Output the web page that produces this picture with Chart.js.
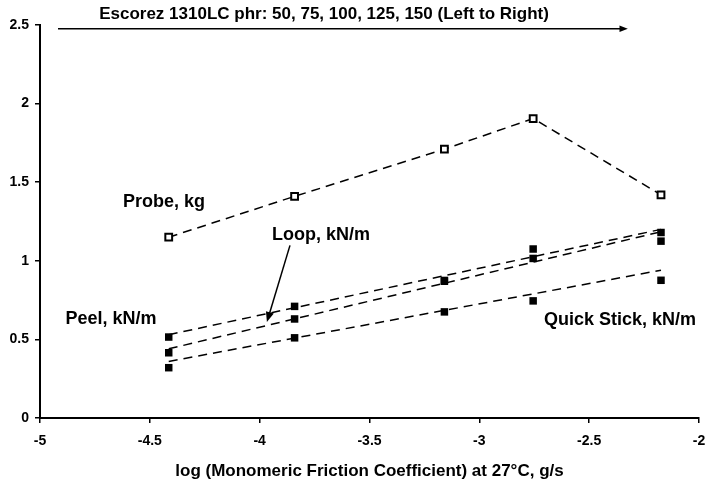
<!DOCTYPE html>
<html>
<head>
<meta charset="utf-8">
<script src="https://cdn.jsdelivr.net/npm/chart.js@4"></script>
<style>
  html, body { margin: 0; padding: 0; background: #fff; }
  #wrap { width: 706px; height: 490px; }
</style>
</head>
<body>
<div id="wrap"><canvas id="chart" width="706" height="490"></canvas></div>
<script>
// log monomeric friction coefficient for each Escorez level (50..150 phr)
const logFriction = [-4.414, -3.841, -3.159, -2.755, -2.173];

// measured values
const probeKg     = [1.15, 1.41, 1.71, 1.905, 1.42];
const peelKNm     = [0.515, 0.71, 0.875, 1.075, 1.18];
const loopKNm     = [0.415, 0.63, 0.87, 1.015, 1.125];
const quickKNm    = [0.32, 0.51, 0.675, 0.745, 0.876];

// dashed trend lines, start/end values
const trendX      = [-4.414, -2.173];
const peelTrend   = [0.53, 1.20];
const loopTrend   = [0.44, 1.185];
const quickTrend  = [0.36, 0.94];

const xTicks = [-5, -4.5, -4, -3.5, -3, -2.5, -2];
const yTicks = [0, 0.5, 1, 1.5, 2, 2.5];

const topNote = 'Escorez 1310LC phr: 50, 75, 100, 125, 150 (Left to Right)';
const xTitle = 'log (Monomeric Friction Coefficient) at 27°C, g/s';

const FONT = '"Liberation Sans", Arial, sans-serif';

function pts(xs, ys) {
    return xs.map((x, i) => ({ x: x, y: ys[i] }));
}

const dash = [9, 6];

const datasets = [
    {
        label: 'Probe, kg',
        data: pts(logFriction, probeKg),
        showLine: true,
        borderColor: '#000',
        borderWidth: 1.5,
        borderDash: dash,
        pointStyle: 'rect',
        pointRadius: 4.8,
        pointBackgroundColor: '#fff',
        pointBorderColor: '#000',
        pointBorderWidth: 2
    },
    {
        label: 'Peel, kN/m',
        data: pts(logFriction, peelKNm),
        showLine: false,
        pointStyle: 'rect',
        pointRadius: 5.3,
        pointBackgroundColor: '#000',
        pointBorderColor: '#000',
        pointBorderWidth: 0
    },
    {
        label: 'Loop, kN/m',
        data: pts(logFriction, loopKNm),
        showLine: false,
        pointStyle: 'rect',
        pointRadius: 5.3,
        pointBackgroundColor: '#000',
        pointBorderColor: '#000',
        pointBorderWidth: 0
    },
    {
        label: 'Quick Stick, kN/m',
        data: pts(logFriction, quickKNm),
        showLine: false,
        pointStyle: 'rect',
        pointRadius: 5.3,
        pointBackgroundColor: '#000',
        pointBorderColor: '#000',
        pointBorderWidth: 0
    }
];

// trend lines
[peelTrend, loopTrend, quickTrend].forEach(t => {
    datasets.push({
        label: 'trend',
        data: pts(trendX, t),
        showLine: true,
        borderColor: '#000',
        borderWidth: 1.5,
        borderDash: dash,
        pointRadius: 0
    });
});

// text labels and arrows, placed in data coordinates
const notes = [
    { text: 'Probe, kg', x: -4.436, y: 1.371 },
    { text: 'Loop, kN/m', x: -3.721, y: 1.162 },
    { text: 'Peel, kN/m', x: -4.677, y: 0.629 },
    { text: 'Quick Stick, kN/m', x: -2.36, y: 0.622 }
];

function arrow(ctx, x1, y1, x2, y2, head) {
    const a = Math.atan2(y2 - y1, x2 - x1);
    ctx.beginPath();
    ctx.moveTo(x1, y1);
    ctx.lineTo(x2 - Math.cos(a) * head * 0.6, y2 - Math.sin(a) * head * 0.6);
    ctx.stroke();
    ctx.beginPath();
    ctx.moveTo(x2, y2);
    ctx.lineTo(x2 - head * Math.cos(a - 0.38), y2 - head * Math.sin(a - 0.38));
    ctx.lineTo(x2 - head * Math.cos(a + 0.38), y2 - head * Math.sin(a + 0.38));
    ctx.closePath();
    ctx.fill();
}

const annotations = {
    id: 'annotations',
    afterDraw(chart) {
        const ctx = chart.ctx;
        const xs = chart.scales.x, ys = chart.scales.y;
        ctx.save();
        ctx.fillStyle = '#000';
        ctx.strokeStyle = '#000';
        ctx.textAlign = 'center';
        ctx.textBaseline = 'middle';

        ctx.font = 'bold 18px ' + FONT;
        notes.forEach(n => {
            ctx.fillText(n.text, xs.getPixelForValue(n.x), ys.getPixelForValue(n.y));
        });

        // top note + long arrow
        ctx.font = 'bold 17px ' + FONT;
        ctx.fillText(topNote, xs.getPixelForValue(-3.707), ys.getPixelForValue(2.571));
        ctx.lineWidth = 1.5;
        arrow(ctx, xs.getPixelForValue(-4.918), ys.getPixelForValue(2.476),
                   xs.getPixelForValue(-2.324), ys.getPixelForValue(2.476), 9);

        // loop arrow
        ctx.lineWidth = 1.5;
        arrow(ctx, xs.getPixelForValue(-3.862), ys.getPixelForValue(1.098),
                   xs.getPixelForValue(-3.967), ys.getPixelForValue(0.61), 11);
        ctx.restore();
    }
};

new Chart(document.getElementById('chart'), {
    type: 'scatter',
    data: { datasets: datasets },
    options: {
        responsive: false,
        animation: false,
        layout: { padding: { left: 0, right: 7, top: 25, bottom: 0 } },
        plugins: {
            legend: { display: false },
            tooltip: { enabled: false }
        },
        scales: {
            x: {
                type: 'linear',
                min: -5,
                max: -2,
                afterBuildTicks: s => { s.ticks = xTicks.map(v => ({ value: v })); },
                afterFit: s => {
                    s.height = 72;
                    s.paddingLeft = 0;
                    s.paddingRight = 0;
                },
                border: { color: '#000', width: 2 },
                grid: { drawOnChartArea: false, drawTicks: true, tickLength: 5, color: '#000', lineWidth: 1.5 },
                ticks: {
                    color: '#000',
                    padding: 10,
                    maxRotation: 0,
                    font: { family: FONT, size: 14, weight: 'bold' },
                    callback: v => String(v)
                },
                title: {
                    display: true,
                    text: xTitle,
                    color: '#000',
                    padding: { top: 0, bottom: 8 },
                    font: { family: FONT, size: 17, weight: 'bold' }
                }
            },
            y: {
                type: 'linear',
                min: 0,
                max: 2.5,
                afterBuildTicks: s => { s.ticks = yTicks.map(v => ({ value: v })); },
                afterFit: s => {
                    s.width = 40;
                    s.paddingTop = 0;
                    s.paddingBottom = 0;
                },
                border: { color: '#000', width: 2 },
                grid: { drawOnChartArea: false, drawTicks: true, tickLength: 5, color: '#000', lineWidth: 1.5 },
                ticks: {
                    color: '#000',
                    padding: 6,
                    font: { family: FONT, size: 14, weight: 'bold' },
                    callback: v => String(v)
                }
            }
        }
    },
    plugins: [annotations]
});
</script>
</body>
</html>
